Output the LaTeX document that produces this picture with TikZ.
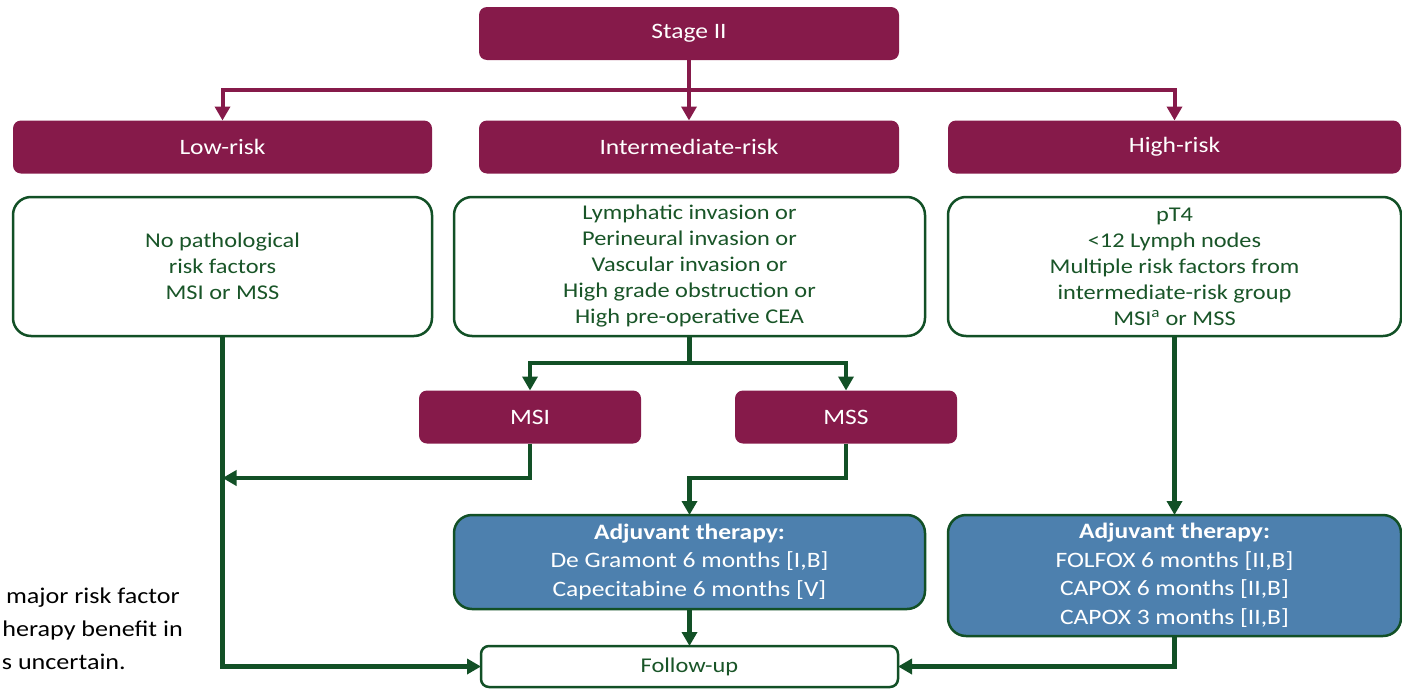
\documentclass[tikz,border=0pt]{standalone}
\usepackage{fontspec}
\setmainfont{Carlito}[FakeStretch=1.16]
\usetikzlibrary{arrows.meta}
\definecolor{mag}{RGB}{134,26,74}
\definecolor{dgreen}{RGB}{18,80,38}
\definecolor{tgreen}{RGB}{25,85,40}
\definecolor{bluef}{RGB}{77,128,174}
\begin{document}
\begin{tikzpicture}[x=1pt,y=-1pt,
 magbox/.style={fill=mag,rounded corners=8pt,text=white,font=\fontsize{22}{26}\selectfont,inner sep=0pt,outer sep=0pt,align=center},
 whitebox/.style={draw=dgreen,line width=2.5pt,fill=white,rounded corners=18pt,text=tgreen,font=\fontsize{21}{26}\selectfont,inner sep=0pt,outer sep=0pt,align=center},
 bluebox/.style={draw=dgreen,line width=2.5pt,fill=bluef,rounded corners=18pt,text=white,font=\fontsize{22}{28.5}\selectfont,inner sep=0pt,outer sep=0pt,align=center},
 followbox/.style={draw=dgreen,line width=2.5pt,fill=white,rounded corners=8pt,text=tgreen,font=\fontsize{21}{26}\selectfont,inner sep=0pt,outer sep=0pt,align=center},
 magline/.style={draw=mag,line width=4pt,-{Triangle[width=15pt,length=14pt]}},
 grline/.style={draw=dgreen,line width=4.5pt,-{Triangle[width=15pt,length=14pt]}},
 notetext/.style={text=black,font=\fontsize{22.5}{33}\selectfont,inner sep=0pt,anchor=base east}
]
\useasboundingbox (0,0) rectangle (1402,688);

% top level
\node[magbox,minimum width=420pt,minimum height=53pt] (stage) at (689,33.5) {Stage II};
\node[magbox,minimum width=419pt,minimum height=53pt] (low) at (222.5,147) {Low-risk};
\node[magbox,minimum width=420pt,minimum height=53pt] (inter) at (689,147) {Intermediate-risk};
\node[magbox,minimum width=453pt,minimum height=53pt] (high) at (1174.5,147) {High-risk};

% criteria boxes
\node[whitebox,minimum width=419pt,minimum height=139pt] (lowbox) at (222.5,266.5)
 {No pathological\\risk factors\\MSI or MSS};
\node[whitebox,minimum width=471pt,minimum height=139pt] (interbox) at (689.5,266.5)
 {Lymphatic invasion or\\Perineural invasion or\\Vascular invasion or\\High grade obstruction or\\High pre-operative CEA};
\node[whitebox,minimum width=453pt,minimum height=139pt] (highbox) at (1174.5,266.5)
 {pT4\\<12 Lymph nodes\\Multiple risk factors from\\intermediate-risk group\\MSI\textsuperscript{a} or MSS};

% MSI / MSS
\node[magbox,minimum width=222pt,minimum height=53pt] (msi) at (530,417) {MSI};
\node[magbox,minimum width=222pt,minimum height=53pt] (mss) at (846,417) {MSS};

% therapy
\node[bluebox,minimum width=471pt,minimum height=94pt] (adj1) at (689.5,562)
 {\textbf{Adjuvant therapy:}\\De Gramont 6 months [I,B]\\Capecitabine 6 months [V]};
\node[bluebox,minimum width=453pt,minimum height=121pt] (adj2) at (1174.5,575.5)
 {\textbf{Adjuvant therapy:}\\FOLFOX 6 months [II,B]\\CAPOX 6 months [II,B]\\CAPOX 3 months [II,B]};

\node[followbox,minimum width=417pt,minimum height=41pt] (follow) at (689.5,666.5) {Follow-up};

% note text as visible at the left edge
\node[notetext] (n1) at (180,603) {major risk factor};
\node[notetext] (n2) at (183,636) {herapy benefit in};
\node[notetext] (n3) at (126,669) {s uncertain.};

% magenta connectors
\coordinate (s1) at (689,90);
\draw[magline] (stage.south) -- (inter.north);
\draw[magline] (s1) -| (low.north);
\draw[magline] (s1) -| (high.north);

% green connectors
\coordinate (s2) at (689.5,363);
\draw[grline] (interbox.south) -- (s2) -| (msi.north);
\draw[grline] (s2) -| (mss.north);
\coordinate (j1) at (222.5,478);
\draw[grline] (msi.south) |- (j1);
\coordinate (j2) at (689.5,478);
\draw[grline] (mss.south) |- (j2) -- (adj1.north);
\draw[grline] (lowbox.south) |- (follow.west);
\draw[grline] (adj1.south) -- (follow.north);
\draw[grline] (highbox.south) -- (adj2.north);
\draw[grline] (adj2.south) |- (follow.east);
\end{tikzpicture}
\end{document}
